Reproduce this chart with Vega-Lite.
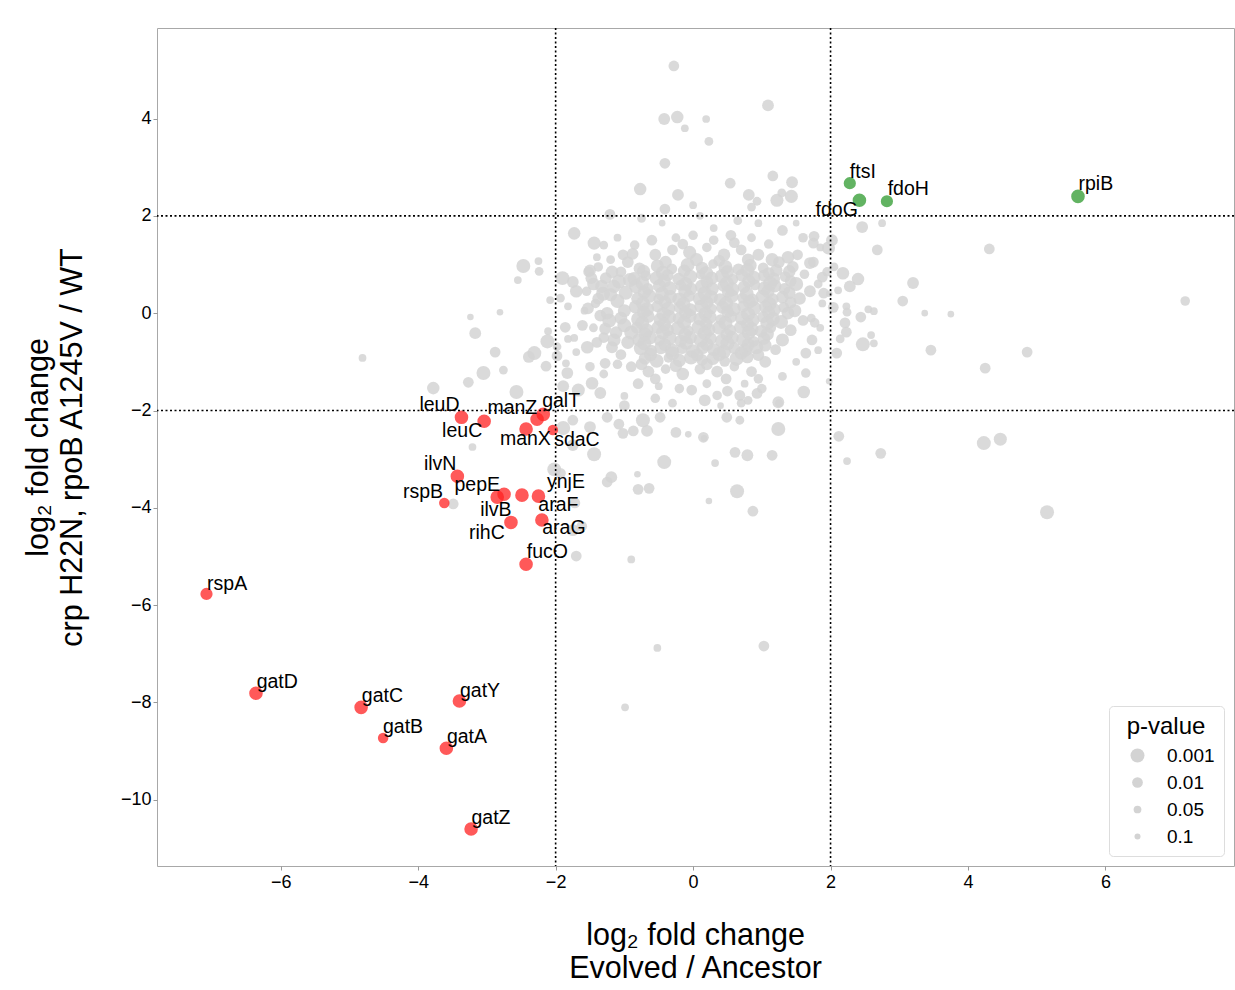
{
"$schema": "https://vega.github.io/schema/vega-lite/v6.json",
"width": 1077,
"height": 838,
"autosize": {"type": "none"},
"padding": {"left": 157, "top": 28, "right": 1, "bottom": 124},
"background": "white",
"config": {
  "font": "Liberation Sans",
  "view": {"stroke": "#a8a8a8", "strokeWidth": 1},
  "axis": {"grid": false, "domain": false, "labelFontSize": 18, "labelColor": "#000000", "tickColor": "#999999", "tickSize": 4, "labelPadding": 3, "titleFontSize": 30.5, "titleFontWeight": "normal", "titleColor": "#000000", "format": "d"}
},
"datasets": {
  "gray": [
{"x":-0.78,"y":0.92,"p":0.005},{"x":-0.52,"y":0.97,"p":0.002},{"x":-0.31,"y":0.91,"p":0.01},{"x":-0.08,"y":0.99,"p":0.001},{"x":0.13,"y":0.93,"p":0.003},{"x":0.29,"y":1.01,"p":0.02},{"x":0.47,"y":0.95,"p":0.001},{"x":0.66,"y":0.9,"p":0.005},{"x":0.83,"y":0.98,"p":0.002},{"x":1.02,"y":0.93,"p":0.01},{"x":1.21,"y":0.88,"p":0.003},
{"x":-0.86,"y":0.71,"p":0.002},{"x":-0.69,"y":0.77,"p":0.01},{"x":-0.53,"y":0.72,"p":0.001},{"x":-0.37,"y":0.78,"p":0.005},{"x":-0.21,"y":0.7,"p":0.003},{"x":-0.04,"y":0.75,"p":0.001},{"x":0.11,"y":0.79,"p":0.02},{"x":0.27,"y":0.72,"p":0.002},{"x":0.42,"y":0.76,"p":0.001},{"x":0.58,"y":0.7,"p":0.01},{"x":0.71,"y":0.78,"p":0.003},{"x":0.88,"y":0.73,"p":0.001},{"x":1.03,"y":0.77,"p":0.005},{"x":1.17,"y":0.7,"p":0.002},{"x":1.34,"y":0.75,"p":0.01},
{"x":-0.83,"y":0.55,"p":0.001},{"x":-0.66,"y":0.5,"p":0.005},{"x":-0.49,"y":0.56,"p":0.002},{"x":-0.34,"y":0.51,"p":0.001},{"x":-0.18,"y":0.57,"p":0.01},{"x":-0.03,"y":0.5,"p":0.003},{"x":0.13,"y":0.55,"p":0.001},{"x":0.28,"y":0.5,"p":0.002},{"x":0.44,"y":0.56,"p":0.005},{"x":0.57,"y":0.49,"p":0.001},{"x":0.74,"y":0.54,"p":0.003},{"x":0.9,"y":0.58,"p":0.01},{"x":1.04,"y":0.51,"p":0.001},{"x":1.19,"y":0.56,"p":0.002},{"x":1.33,"y":0.5,"p":0.005},
{"x":-0.81,"y":0.3,"p":0.003},{"x":-0.64,"y":0.35,"p":0.001},{"x":-0.5,"y":0.29,"p":0.01},{"x":-0.33,"y":0.34,"p":0.002},{"x":-0.2,"y":0.28,"p":0.001},{"x":-0.06,"y":0.35,"p":0.005},{"x":0.09,"y":0.3,"p":0.002},{"x":0.26,"y":0.33,"p":0.001},{"x":0.39,"y":0.28,"p":0.003},{"x":0.56,"y":0.35,"p":0.001},{"x":0.72,"y":0.31,"p":0.01},{"x":0.86,"y":0.27,"p":0.002},{"x":1.01,"y":0.34,"p":0.001},{"x":1.16,"y":0.29,"p":0.005},{"x":1.3,"y":0.33,"p":0.003},
{"x":-0.84,"y":0.13,"p":0.002},{"x":-0.67,"y":0.08,"p":0.001},{"x":-0.52,"y":0.14,"p":0.005},{"x":-0.36,"y":0.09,"p":0.001},{"x":-0.19,"y":0.12,"p":0.003},{"x":-0.04,"y":0.07,"p":0.002},{"x":0.12,"y":0.14,"p":0.001},{"x":0.27,"y":0.09,"p":0.01},{"x":0.43,"y":0.12,"p":0.002},{"x":0.59,"y":0.08,"p":0.001},{"x":0.73,"y":0.14,"p":0.005},{"x":0.89,"y":0.1,"p":0.001},{"x":1.05,"y":0.13,"p":0.003},{"x":1.18,"y":0.07,"p":0.002},{"x":1.32,"y":0.12,"p":0.01},
{"x":-0.8,"y":-0.12,"p":0.001},{"x":-0.65,"y":-0.07,"p":0.003},{"x":-0.48,"y":-0.13,"p":0.002},{"x":-0.35,"y":-0.08,"p":0.001},{"x":-0.21,"y":-0.11,"p":0.005},{"x":-0.05,"y":-0.06,"p":0.001},{"x":0.1,"y":-0.12,"p":0.002},{"x":0.24,"y":-0.08,"p":0.001},{"x":0.4,"y":-0.13,"p":0.01},{"x":0.55,"y":-0.07,"p":0.003},{"x":0.71,"y":-0.1,"p":0.001},{"x":0.87,"y":-0.14,"p":0.002},{"x":1.02,"y":-0.08,"p":0.005},{"x":1.16,"y":-0.12,"p":0.001},
{"x":-0.82,"y":-0.3,"p":0.005},{"x":-0.68,"y":-0.35,"p":0.001},{"x":-0.51,"y":-0.29,"p":0.002},{"x":-0.37,"y":-0.34,"p":0.003},{"x":-0.22,"y":-0.31,"p":0.001},{"x":-0.07,"y":-0.36,"p":0.01},{"x":0.08,"y":-0.29,"p":0.001},{"x":0.23,"y":-0.34,"p":0.002},{"x":0.38,"y":-0.3,"p":0.001},{"x":0.54,"y":-0.35,"p":0.005},{"x":0.69,"y":-0.29,"p":0.002},{"x":0.85,"y":-0.33,"p":0.001},{"x":0.99,"y":-0.37,"p":0.003},{"x":1.13,"y":-0.3,"p":0.01},
{"x":-0.79,"y":-0.55,"p":0.002},{"x":-0.63,"y":-0.5,"p":0.001},{"x":-0.49,"y":-0.56,"p":0.01},{"x":-0.34,"y":-0.51,"p":0.001},{"x":-0.18,"y":-0.57,"p":0.003},{"x":-0.04,"y":-0.5,"p":0.002},{"x":0.11,"y":-0.55,"p":0.001},{"x":0.26,"y":-0.52,"p":0.005},{"x":0.42,"y":-0.57,"p":0.001},{"x":0.57,"y":-0.5,"p":0.002},{"x":0.73,"y":-0.54,"p":0.001},{"x":0.88,"y":-0.58,"p":0.01},{"x":1.03,"y":-0.52,"p":0.003},
{"x":-0.76,"y":-0.72,"p":0.001},{"x":-0.61,"y":-0.77,"p":0.005},{"x":-0.47,"y":-0.71,"p":0.002},{"x":-0.31,"y":-0.76,"p":0.001},{"x":-0.16,"y":-0.73,"p":0.01},{"x":0.0,"y":-0.78,"p":0.001},{"x":0.14,"y":-0.71,"p":0.003},{"x":0.3,"y":-0.75,"p":0.002},{"x":0.45,"y":-0.79,"p":0.001},{"x":0.6,"y":-0.72,"p":0.005},{"x":0.76,"y":-0.76,"p":0.002},{"x":0.92,"y":-0.7,"p":0.001},
{"x":-0.7,"y":-0.93,"p":0.003},{"x":-0.53,"y":-0.98,"p":0.001},{"x":-0.36,"y":-0.92,"p":0.02},{"x":-0.2,"y":-0.97,"p":0.002},{"x":-0.03,"y":-0.91,"p":0.001},{"x":0.13,"y":-0.96,"p":0.005},{"x":0.29,"y":-0.93,"p":0.002},{"x":0.46,"y":-0.99,"p":0.01},{"x":0.63,"y":-0.94,"p":0.001},{"x":0.79,"y":-0.9,"p":0.003},
{"x":-0.72,"y":0.86,"p":0.002},{"x":-0.44,"y":0.83,"p":0.001},{"x":-0.13,"y":0.87,"p":0.003},{"x":0.19,"y":0.82,"p":0.001},{"x":0.5,"y":0.85,"p":0.002},{"x":0.79,"y":0.88,"p":0.001},{"x":1.1,"y":0.82,"p":0.005},{"x":1.4,"y":0.86,"p":0.003},
{"x":-0.74,"y":0.62,"p":0.001},{"x":-0.42,"y":0.66,"p":0.002},{"x":-0.11,"y":0.6,"p":0.001},{"x":0.2,"y":0.64,"p":0.003},{"x":0.49,"y":0.61,"p":0.001},{"x":0.81,"y":0.66,"p":0.002},{"x":1.12,"y":0.61,"p":0.001},{"x":1.42,"y":0.66,"p":0.005},
{"x":-0.71,"y":0.43,"p":0.002},{"x":-0.45,"y":0.4,"p":0.001},{"x":-0.12,"y":0.45,"p":0.002},{"x":0.17,"y":0.41,"p":0.001},{"x":0.51,"y":0.44,"p":0.003},{"x":0.78,"y":0.4,"p":0.001},{"x":1.09,"y":0.45,"p":0.002},{"x":1.4,"y":0.42,"p":0.003},
{"x":-0.73,"y":0.2,"p":0.001},{"x":-0.41,"y":0.23,"p":0.003},{"x":-0.14,"y":0.19,"p":0.001},{"x":0.2,"y":0.22,"p":0.002},{"x":0.48,"y":0.2,"p":0.001},{"x":0.82,"y":0.23,"p":0.002},{"x":1.11,"y":0.19,"p":0.001},{"x":1.42,"y":0.22,"p":0.005},
{"x":-0.72,"y":0.02,"p":0.002},{"x":-0.43,"y":-0.02,"p":0.001},{"x":-0.11,"y":0.01,"p":0.002},{"x":0.18,"y":-0.01,"p":0.001},{"x":0.5,"y":0.03,"p":0.003},{"x":0.8,"y":-0.02,"p":0.001},{"x":1.1,"y":0.01,"p":0.002},{"x":1.38,"y":0.0,"p":0.003},
{"x":-0.74,"y":-0.2,"p":0.001},{"x":-0.42,"y":-0.23,"p":0.002},{"x":-0.13,"y":-0.19,"p":0.001},{"x":0.19,"y":-0.22,"p":0.003},{"x":0.47,"y":-0.2,"p":0.001},{"x":0.79,"y":-0.23,"p":0.002},{"x":1.08,"y":-0.2,"p":0.001},
{"x":-0.7,"y":-0.43,"p":0.002},{"x":-0.44,"y":-0.4,"p":0.001},{"x":-0.12,"y":-0.44,"p":0.002},{"x":0.17,"y":-0.41,"p":0.001},{"x":0.49,"y":-0.44,"p":0.003},{"x":0.81,"y":-0.4,"p":0.001},{"x":1.08,"y":-0.43,"p":0.002},
{"x":-0.71,"y":-0.62,"p":0.001},{"x":-0.41,"y":-0.65,"p":0.003},{"x":-0.1,"y":-0.61,"p":0.001},{"x":0.2,"y":-0.64,"p":0.002},{"x":0.5,"y":-0.62,"p":0.001},{"x":0.8,"y":-0.65,"p":0.002},{"x":1.05,"y":-0.66,"p":0.003},
{"x":-0.62,"y":-0.85,"p":0.002},{"x":-0.3,"y":-0.83,"p":0.001},{"x":0.06,"y":-0.86,"p":0.003},{"x":0.38,"y":-0.84,"p":0.001},{"x":0.7,"y":-0.82,"p":0.002},{"x":0.95,"y":-0.86,"p":0.005},
{"x":-1.52,"y":0.85,"p":0.01},{"x":-1.45,"y":0.6,"p":0.003},{"x":-1.38,"y":0.95,"p":0.02},{"x":-1.31,"y":0.4,"p":0.001},{"x":-1.27,"y":0.72,"p":0.005},{"x":-1.2,"y":1.1,"p":0.03},{"x":-1.15,"y":0.55,"p":0.002},{"x":-1.1,"y":0.25,"p":0.001},{"x":-1.05,"y":0.85,"p":0.01},{"x":-1.0,"y":0.05,"p":0.002},{"x":-0.98,"y":0.42,"p":0.001},{"x":-0.95,"y":1.05,"p":0.005},{"x":-1.42,"y":0.2,"p":0.02},{"x":-1.35,"y":-0.05,"p":0.005},{"x":-1.22,"y":-0.15,"p":0.001},{"x":-1.12,"y":-0.4,"p":0.003},{"x":-1.0,"y":-0.25,"p":0.001},{"x":-0.95,"y":-0.6,"p":0.002},{"x":-1.3,"y":-0.5,"p":0.01},{"x":-1.45,"y":-0.3,"p":0.03},{"x":-1.58,"y":0.05,"p":0.05},{"x":-1.18,"y":-0.7,"p":0.005},{"x":-1.05,"y":-0.85,"p":0.01},{"x":-0.92,"y":0.68,"p":0.001},{"x":-1.4,"y":1.15,"p":0.05},{"x":-1.55,"y":0.45,"p":0.02},{"x":-1.25,"y":0.0,"p":0.003},{"x":-0.9,"y":-0.4,"p":0.001},
{"x":-1.48,"y":0.72,"p":0.005},{"x":-1.33,"y":0.55,"p":0.002},{"x":-1.18,"y":0.85,"p":0.003},{"x":-1.08,"y":0.65,"p":0.001},{"x":-1.38,"y":0.3,"p":0.005},{"x":-1.2,"y":0.38,"p":0.002},{"x":-1.05,"y":-0.1,"p":0.003},{"x":-1.28,"y":-0.32,"p":0.005},{"x":-1.15,"y":-0.55,"p":0.002},{"x":-1.4,"y":-0.6,"p":0.01},{"x":-1.02,"y":1.2,"p":0.01},{"x":-0.88,"y":1.22,"p":0.005},
{"x":-0.4,"y":1.05,"p":0.003},{"x":0.05,"y":1.1,"p":0.002},{"x":0.38,"y":1.08,"p":0.005},{"x":0.8,"y":1.1,"p":0.003},{"x":1.25,"y":1.05,"p":0.005},{"x":0.6,"y":1.45,"p":0.01},{"x":-0.15,"y":1.42,"p":0.01},{"x":0.3,"y":1.5,"p":0.02},
{"x":-0.75,"y":-1.05,"p":0.005},{"x":-0.25,"y":-1.08,"p":0.003},{"x":0.2,"y":-1.05,"p":0.005},{"x":0.48,"y":-1.35,"p":0.01},{"x":0.95,"y":-1.35,"p":0.02},{"x":-0.55,"y":-1.35,"p":0.01},
{"x":1.45,"y":0.95,"p":0.005},{"x":1.5,"y":0.6,"p":0.001},{"x":1.55,"y":0.3,"p":0.003},{"x":1.62,"y":0.8,"p":0.02},{"x":1.7,"y":0.45,"p":0.005},{"x":1.75,"y":1.05,"p":0.01},{"x":1.82,"y":0.6,"p":0.03},{"x":1.88,"y":0.2,"p":0.05},{"x":1.95,"y":0.85,"p":0.02},{"x":1.48,"y":0.05,"p":0.002},{"x":1.6,"y":-0.15,"p":0.01},{"x":1.42,"y":-0.35,"p":0.005},{"x":1.3,"y":-0.55,"p":0.002},{"x":1.2,"y":-0.75,"p":0.01},{"x":1.72,"y":-0.1,"p":0.03},{"x":1.85,"y":-0.3,"p":0.05},{"x":1.52,"y":1.2,"p":0.01},{"x":1.38,"y":1.15,"p":0.003},{"x":1.98,"y":0.4,"p":0.08},{"x":2.05,"y":0.95,"p":0.03},{"x":1.15,"y":1.1,"p":0.002},{"x":1.28,"y":-0.18,"p":0.001},
{"x":-0.55,"y":1.2,"p":0.005},{"x":-0.3,"y":1.3,"p":0.01},{"x":-0.05,"y":1.25,"p":0.002},{"x":0.2,"y":1.35,"p":0.02},{"x":0.45,"y":1.2,"p":0.003},{"x":0.7,"y":1.3,"p":0.01},{"x":0.95,"y":1.2,"p":0.005},{"x":1.1,"y":1.42,"p":0.02},{"x":0.85,"y":1.55,"p":0.03},{"x":0.55,"y":1.6,"p":0.01},{"x":0.3,"y":1.75,"p":0.05},{"x":0.0,"y":1.6,"p":0.02},{"x":-0.25,"y":1.55,"p":0.03},{"x":-0.6,"y":1.5,"p":0.01},{"x":-0.85,"y":1.4,"p":0.02},{"x":-1.1,"y":1.55,"p":0.05},{"x":0.65,"y":1.9,"p":0.03},{"x":1.3,"y":1.7,"p":0.01},{"x":0.95,"y":1.85,"p":0.05},{"x":-0.45,"y":1.85,"p":0.08},{"x":-1.3,"y":1.4,"p":0.03},{"x":1.6,"y":1.55,"p":0.02},{"x":1.85,"y":1.35,"p":0.05},{"x":1.5,"y":1.85,"p":0.08},{"x":0.1,"y":2.0,"p":0.05},{"x":-0.75,"y":1.95,"p":0.03},
{"x":-0.9,"y":-1.1,"p":0.01},{"x":-0.65,"y":-1.2,"p":0.005},{"x":-0.4,"y":-1.15,"p":0.02},{"x":-0.15,"y":-1.25,"p":0.003},{"x":0.1,"y":-1.15,"p":0.01},{"x":0.35,"y":-1.2,"p":0.005},{"x":0.6,"y":-1.1,"p":0.02},{"x":0.85,"y":-1.2,"p":0.01},{"x":1.05,"y":-1.0,"p":0.005},{"x":-1.1,"y":-1.05,"p":0.02},{"x":-1.3,"y":-1.25,"p":0.03},{"x":-0.8,"y":-1.45,"p":0.01},{"x":-0.5,"y":-1.5,"p":0.05},{"x":-0.2,"y":-1.55,"p":0.02},{"x":0.2,"y":-1.45,"p":0.03},{"x":0.5,"y":-1.6,"p":0.01},{"x":0.75,"y":-1.45,"p":0.05},{"x":1.0,"y":-1.55,"p":0.02},{"x":-1.0,"y":-1.7,"p":0.05},{"x":-0.3,"y":-1.85,"p":0.03},{"x":0.4,"y":-1.9,"p":0.08},{"x":1.3,"y":-1.3,"p":0.03},{"x":1.5,"y":-1.0,"p":0.05},{"x":-1.5,"y":-1.1,"p":0.02},{"x":-1.7,"y":-0.8,"p":0.05},{"x":0.7,"y":-1.85,"p":0.03},{"x":1.25,"y":-1.85,"p":0.05},
{"x":-1.73,"y":1.64,"p":0.003},{"x":-1.44,"y":1.44,"p":0.002},{"x":-2.47,"y":0.97,"p":0.001},{"x":-2.25,"y":1.07,"p":0.05},{"x":-2.24,"y":0.86,"p":0.03},{"x":-2.55,"y":0.68,"p":0.05},{"x":-1.9,"y":0.72,"p":0.001},{"x":-1.75,"y":0.64,"p":0.005},{"x":-1.7,"y":0.45,"p":0.003},{"x":-2.08,"y":0.27,"p":0.05},{"x":-1.93,"y":0.31,"p":0.03},{"x":-1.82,"y":0.14,"p":0.05},{"x":-2.81,"y":0.02,"p":0.08},{"x":-3.24,"y":-0.08,"p":0.08},{"x":-3.17,"y":-0.41,"p":0.005},{"x":-2.11,"y":-0.37,"p":0.05},{"x":-2.12,"y":-0.58,"p":0.001},{"x":-1.86,"y":-0.29,"p":0.01},{"x":-1.82,"y":-0.53,"p":0.05},{"x":-1.73,"y":-0.51,"p":0.05},{"x":-1.98,"y":-0.69,"p":0.03},{"x":-2.31,"y":-0.82,"p":0.001},{"x":-2.39,"y":-0.9,"p":0.005},{"x":-2.88,"y":-0.8,"p":0.01},{"x":-1.98,"y":-0.88,"p":0.01},{"x":-2.14,"y":-1.09,"p":0.01},{"x":-1.85,"y":-1.03,"p":0.05},{"x":-1.83,"y":-1.23,"p":0.005},{"x":-2.76,"y":-1.17,"p":0.03},{"x":-3.05,"y":-1.23,"p":0.001},{"x":-3.27,"y":-1.42,"p":0.01},{"x":-3.78,"y":-1.54,"p":0.003},{"x":-2.57,"y":-1.62,"p":0.001},{"x":-1.89,"y":-1.5,"p":0.005},{"x":-1.67,"y":-1.58,"p":0.002},{"x":-1.47,"y":-1.44,"p":0.003},{"x":-1.35,"y":-1.64,"p":0.005},{"x":-1.28,"y":-1.03,"p":0.01},{"x":-1.5,"y":0.88,"p":0.005},{"x":-1.54,"y":-0.7,"p":0.003},{"x":-1.61,"y":-0.25,"p":0.01},{"x":-1.53,"y":0.1,"p":0.005},{"x":-4.81,"y":-0.92,"p":0.05},
{"x":-0.28,"y":5.08,"p":0.01},{"x":1.09,"y":4.27,"p":0.005},{"x":-0.42,"y":3.99,"p":0.005},{"x":-0.23,"y":4.03,"p":0.003},{"x":-0.12,"y":3.8,"p":0.05},{"x":0.19,"y":3.99,"p":0.05},{"x":0.23,"y":3.53,"p":0.03},{"x":-0.41,"y":3.08,"p":0.01},{"x":-0.77,"y":2.55,"p":0.003},{"x":-0.22,"y":2.43,"p":0.005},{"x":0.0,"y":2.22,"p":0.05},{"x":0.54,"y":2.67,"p":0.01},{"x":0.81,"y":2.43,"p":0.005},{"x":0.93,"y":2.3,"p":0.03},{"x":1.16,"y":2.82,"p":0.01},{"x":1.22,"y":2.32,"p":0.002},{"x":1.43,"y":2.4,"p":0.002},{"x":1.44,"y":2.69,"p":0.005},{"x":1.29,"y":2.47,"p":0.03},{"x":-0.41,"y":2.14,"p":0.01},{"x":0.85,"y":2.18,"p":0.03},{"x":-1.21,"y":2.03,"p":0.01},
{"x":1.76,"y":1.58,"p":0.01},{"x":2.02,"y":1.5,"p":0.005},{"x":1.97,"y":1.34,"p":0.002},{"x":1.75,"y":1.44,"p":0.01},{"x":1.7,"y":1.03,"p":0.005},{"x":2.18,"y":0.82,"p":0.003},{"x":2.4,"y":0.7,"p":0.003},{"x":2.28,"y":0.55,"p":0.005},{"x":2.11,"y":0.47,"p":0.05},{"x":3.05,"y":0.25,"p":0.01},{"x":3.2,"y":0.62,"p":0.005},{"x":2.44,"y":-0.08,"p":0.01},{"x":2.55,"y":0.08,"p":0.05},{"x":2.63,"y":0.04,"p":0.05},{"x":2.23,"y":0.14,"p":0.05},{"x":2.24,"y":0.02,"p":0.03},{"x":2.21,"y":-0.2,"p":0.01},{"x":2.23,"y":-0.39,"p":0.01},{"x":2.14,"y":-0.53,"p":0.03},{"x":2.47,"y":-0.64,"p":0.001},{"x":2.63,"y":-0.62,"p":0.05},{"x":2.59,"y":-0.45,"p":0.05},{"x":2.09,"y":-0.82,"p":0.01},{"x":1.82,"y":-0.76,"p":0.05},{"x":1.64,"y":-0.82,"p":0.01},{"x":1.73,"y":-0.55,"p":0.01},{"x":1.64,"y":-1.23,"p":0.02},{"x":1.61,"y":-1.62,"p":0.003},{"x":1.98,"y":-1.4,"p":0.08},{"x":3.46,"y":-0.76,"p":0.01},{"x":4.25,"y":-1.13,"p":0.01},{"x":4.86,"y":-0.8,"p":0.01},{"x":3.37,"y":0.0,"p":0.08},{"x":3.75,"y":-0.02,"p":0.08},{"x":4.31,"y":1.32,"p":0.01},{"x":2.68,"y":1.3,"p":0.01},{"x":2.46,"y":1.77,"p":0.005},{"x":2.75,"y":1.85,"p":0.05},{"x":7.16,"y":0.25,"p":0.02},{"x":1.88,"y":0.74,"p":0.01},{"x":1.9,"y":0.41,"p":0.01},{"x":1.77,"y":-0.2,"p":0.02},{"x":2.04,"y":0.12,"p":0.01},
{"x":1.24,"y":-2.38,"p":0.001},{"x":1.15,"y":-2.92,"p":0.01},{"x":0.79,"y":-2.92,"p":0.005},{"x":0.61,"y":-2.86,"p":0.01},{"x":0.64,"y":-3.66,"p":0.001},{"x":0.87,"y":-4.07,"p":0.01},{"x":0.23,"y":-3.86,"p":0.08},{"x":0.32,"y":-3.08,"p":0.05},{"x":0.16,"y":-2.57,"p":0.08},{"x":-0.07,"y":-2.49,"p":0.08},{"x":-0.25,"y":-2.45,"p":0.01},{"x":-0.42,"y":-3.06,"p":0.001},{"x":-0.64,"y":-3.6,"p":0.01},{"x":-0.8,"y":-3.62,"p":0.01},{"x":-0.81,"y":-3.31,"p":0.08},{"x":-1.19,"y":-3.37,"p":0.005},{"x":-1.25,"y":-3.47,"p":0.01},{"x":-1.44,"y":-2.9,"p":0.001},{"x":-1.75,"y":-2.71,"p":0.005},{"x":-1.89,"y":-2.36,"p":0.001},{"x":-0.87,"y":-2.42,"p":0.01},{"x":-1.02,"y":-2.47,"p":0.01},{"x":-0.67,"y":-2.42,"p":0.005},{"x":-1.08,"y":-2.28,"p":0.01},{"x":-2.02,"y":-3.21,"p":0.001},{"x":-1.93,"y":-3.29,"p":0.01},{"x":-1.72,"y":-3.9,"p":0.01},{"x":-1.75,"y":-4.46,"p":0.005},{"x":-1.62,"y":-4.38,"p":0.01},{"x":-1.7,"y":-4.99,"p":0.01},{"x":-0.9,"y":-5.06,"p":0.05},{"x":-0.52,"y":-6.88,"p":0.05},{"x":1.03,"y":-6.84,"p":0.01},{"x":-0.99,"y":-8.1,"p":0.05},{"x":-3.21,"y":-2.75,"p":0.05},{"x":-3.49,"y":-3.92,"p":0.01},{"x":2.73,"y":-2.88,"p":0.01},{"x":2.24,"y":-3.04,"p":0.05},{"x":2.12,"y":-2.53,"p":0.01},{"x":4.23,"y":-2.67,"p":0.001},{"x":4.47,"y":-2.59,"p":0.002},{"x":5.15,"y":-4.09,"p":0.001},
{"x":-0.02,"y":-1.58,"p":0.01},{"x":0.17,"y":-1.79,"p":0.005},{"x":0.35,"y":-1.69,"p":0.02},{"x":0.68,"y":-1.69,"p":0.01},{"x":0.8,"y":-1.79,"p":0.03},{"x":0.93,"y":-1.65,"p":0.01},{"x":1.24,"y":-1.83,"p":0.005},{"x":0.49,"y":-2.14,"p":0.01},{"x":0.68,"y":-2.2,"p":0.03},{"x":0.15,"y":-2.55,"p":0.01},{"x":-0.48,"y":-2.14,"p":0.01},{"x":-0.73,"y":-2.2,"p":0.001},{"x":-1.25,"y":-2.14,"p":0.01},{"x":-1.5,"y":-2.34,"p":0.005},{"x":-1.75,"y":-2.2,"p":0.01},{"x":-0.55,"y":-1.75,"p":0.02},{"x":-1.0,"y":-1.9,"p":0.01}
  ],
  "hits": [
{"gene":"leuD","x":-3.37,"y":-2.14,"p":0.001,"grp":"down","lx":-3.69,"ly":-1.89},
{"gene":"leuC","x":-3.04,"y":-2.22,"p":0.001,"grp":"down","lx":-3.36,"ly":-2.42},
{"gene":"manZ","x":-2.27,"y":-2.18,"p":0.001,"grp":"down","lx":-2.63,"ly":-1.95},
{"gene":"galT","x":-2.18,"y":-2.08,"p":0.001,"grp":"down","lx":-1.92,"ly":-1.81},
{"gene":"manX","x":-2.43,"y":-2.38,"p":0.001,"grp":"down","lx":-2.44,"ly":-2.59},
{"gene":"sdaC","x":-2.04,"y":-2.4,"p":0.01,"grp":"down","lx":-1.69,"ly":-2.61},
{"gene":"ilvN","x":-3.43,"y":-3.35,"p":0.001,"grp":"down","lx":-3.68,"ly":-3.1},
{"gene":"rspB","x":-3.62,"y":-3.9,"p":0.01,"grp":"down","lx":-3.93,"ly":-3.68},
{"gene":"pepE","x":-2.75,"y":-3.72,"p":0.001,"grp":"down","lx":-3.14,"ly":-3.53},
{"gene":"ilvB","x":-2.85,"y":-3.78,"p":0.001,"grp":"down","lx":-2.87,"ly":-4.05},
{"gene":"araF","x":-2.49,"y":-3.74,"p":0.001,"grp":"down","lx":-1.96,"ly":-3.95},
{"gene":"ynjE","x":-2.25,"y":-3.76,"p":0.001,"grp":"down","lx":-1.85,"ly":-3.47},
{"gene":"araG","x":-2.2,"y":-4.25,"p":0.001,"grp":"down","lx":-1.88,"ly":-4.42},
{"gene":"rihC","x":-2.65,"y":-4.3,"p":0.001,"grp":"down","lx":-3.0,"ly":-4.52},
{"gene":"fucO","x":-2.43,"y":-5.16,"p":0.001,"grp":"down","lx":-2.12,"ly":-4.91},
{"gene":"rspA","x":-7.08,"y":-5.77,"p":0.003,"grp":"down","lx":-6.78,"ly":-5.57},
{"gene":"gatD","x":-6.36,"y":-7.81,"p":0.001,"grp":"down","lx":-6.05,"ly":-7.58},
{"gene":"gatC","x":-4.83,"y":-8.1,"p":0.001,"grp":"down","lx":-4.52,"ly":-7.87},
{"gene":"gatB","x":-4.51,"y":-8.73,"p":0.01,"grp":"down","lx":-4.22,"ly":-8.51},
{"gene":"gatY","x":-3.4,"y":-7.97,"p":0.001,"grp":"down","lx":-3.1,"ly":-7.77},
{"gene":"gatA","x":-3.59,"y":-8.94,"p":0.001,"grp":"down","lx":-3.29,"ly":-8.71},
{"gene":"gatZ","x":-3.23,"y":-10.6,"p":0.001,"grp":"down","lx":-2.94,"ly":-10.38},
{"gene":"ftsI","x":2.28,"y":2.67,"p":0.003,"grp":"up","lx":2.47,"ly":2.9},
{"gene":"fdoG","x":2.42,"y":2.32,"p":0.001,"grp":"up","lx":2.09,"ly":2.12},
{"gene":"fdoH","x":2.82,"y":2.3,"p":0.003,"grp":"up","lx":3.13,"ly":2.55},
{"gene":"rpiB","x":5.6,"y":2.4,"p":0.001,"grp":"up","lx":5.86,"ly":2.65}
  ]
},
"resolve": {"scale": {"size": "independent", "color": "independent"}, "legend": {"size": "independent"}},
"layer": [
  {
    "data": {"name": "gray"},
    "mark": {"type": "circle", "color": "#d3d3d3", "opacity": 0.85},
    "encoding": {
      "x": {"field": "x", "type": "quantitative", "scale": {"domain": [-7.8, 7.87], "nice": false, "zero": false},
            "axis": {"values": [-6, -4, -2, 0, 2, 4, 6], "title": ["log₂ fold change", "Evolved / Ancestor"], "titleX": 538, "titleY": 69, "titleBaseline": "middle", "titleAlign": "center", "titleLineHeight": 33}},
      "y": {"field": "y", "type": "quantitative", "scale": {"domain": [-11.36, 5.86], "nice": false, "zero": false},
            "axis": {"values": [-10, -8, -6, -4, -2, 0, 2, 4], "title": ["log₂ fold change", "crp H22N, rpoB A1245V / WT"], "titleX": -119, "titleY": 419, "titleAngle": -90, "titleBaseline": "middle", "titleAlign": "center", "titleLineHeight": 34, "labelPadding": 2}},
      "size": {"field": "p", "type": "quantitative", "scale": {"type": "log", "domain": [0.001, 0.1], "range": [195, 36], "clamp": true},
               "legend": {"title": "p-value", "values": [0.001, 0.01, 0.05, 0.1], "format": "~g", "orient": "bottom-right", "offset": 10, "padding": 9, "fillColor": "white", "strokeColor": "#dddddd", "cornerRadius": 4, "titleFontSize": 24, "titleFontWeight": "normal", "titleColor": "#000000", "titleAnchor": "middle", "titlePadding": 7, "labelFontSize": 19, "labelColor": "#000000", "labelOffset": 20, "symbolOffset": 10, "rowPadding": 7, "symbolFillColor": "#d0d0d0", "symbolStrokeWidth": 0, "symbolOpacity": 1}}
    }
  },
  {
    "data": {"name": "hits"},
    "mark": {"type": "circle", "opacity": 0.75},
    "encoding": {
      "x": {"field": "x", "type": "quantitative"},
      "y": {"field": "y", "type": "quantitative"},
      "size": {"field": "p", "type": "quantitative", "scale": {"type": "log", "domain": [0.001, 0.1], "range": [185, 36], "clamp": true}, "legend": null},
      "color": {"field": "grp", "type": "nominal", "scale": {"domain": ["down", "up"], "range": ["#ff2222", "#2e9a2e"]}, "legend": null}
    }
  },
  {
    "data": {"name": "hits"},
    "mark": {"type": "text", "fontSize": 19.5, "color": "#000000", "align": "center", "baseline": "middle"},
    "encoding": {
      "x": {"field": "lx", "type": "quantitative"},
      "y": {"field": "ly", "type": "quantitative"},
      "text": {"field": "gene"}
    }
  },
  {
    "data": {"values": [{"v": -2}, {"v": 2}]},
    "mark": {"type": "rule", "color": "#000000", "strokeDash": [2, 2.5], "strokeWidth": 1.6},
    "encoding": {"x": {"field": "v", "type": "quantitative"}}
  },
  {
    "data": {"values": [{"v": -2}, {"v": 2}]},
    "mark": {"type": "rule", "color": "#000000", "strokeDash": [2, 2.5], "strokeWidth": 1.6},
    "encoding": {"y": {"field": "v", "type": "quantitative"}}
  }
]
}
